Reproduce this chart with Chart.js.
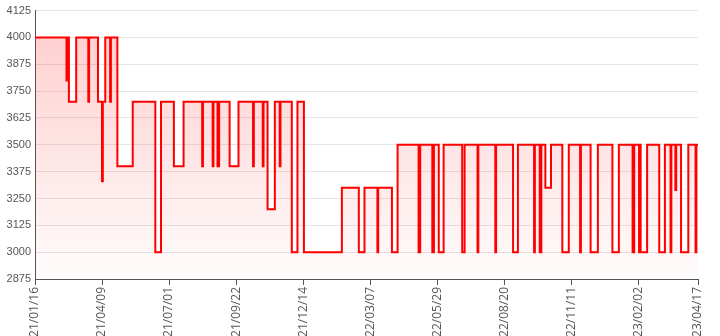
<!DOCTYPE html>
<html>
<head>
<meta charset="utf-8">
<script src="https://cdn.jsdelivr.net/npm/chart.js@4/dist/chart.umd.min.js"></script>
<style>
  html, body { margin: 0; padding: 0; background: #ffffff; }
  #wrap { width: 720px; height: 336px; position: relative; }
</style>
</head>
<body>
<div id="wrap"><canvas id="c"></canvas></div>
<script>
// Start date of the series (day 0 = 2021-01-16)
const startDate = '2021-01-16';

// Days (since startDate) at which the price changes, and the new price
const changeDay = [
  0, 39, 40, 42, 51, 66, 67, 78, 83, 84, 87, 93, 94, 102, 121,
  149, 156, 172, 184, 207, 208, 220, 221, 226, 228, 241, 252,
  270, 271, 282, 283, 288, 297, 303, 304, 318, 325, 333,
  380, 401, 408, 424, 425, 442, 449,
  475, 477, 492, 494, 500, 506, 529, 532, 548, 549,
  570, 571, 592, 598, 618, 619, 625, 627, 632, 639, 653, 661,
  675, 676, 688, 697, 715, 723, 740, 742, 748, 749, 750, 758,
  773, 780, 787, 788, 793, 794, 800, 809, 818, 819, 821
];
const price = [
  4000, 3800, 4000, 3700, 4000, 3700, 4000, 3700, 3330, 3700, 4000, 3700, 4000, 3400, 3700,
  3000, 3700, 3400, 3700, 3400, 3700, 3400, 3700, 3400, 3700, 3400, 3700,
  3400, 3700, 3400, 3700, 3200, 3700, 3400, 3700, 3000, 3700, 3000,
  3300, 3000, 3300, 3000, 3300, 3000, 3500,
  3000, 3500, 3000, 3500, 3000, 3500, 3000, 3500, 3000, 3500,
  3000, 3500, 3000, 3500, 3000, 3500, 3000, 3500, 3300, 3500, 3000, 3500,
  3000, 3500, 3000, 3500, 3000, 3500, 3000, 3500, 3000, 3500, 3000, 3500,
  3000, 3500, 3000, 3500, 3290, 3500, 3000, 3500, 3000, 3500, 3500
];

// X axis ticks
const tickDay = [0, 83, 166, 249, 332, 415, 498, 581, 664, 747, 821];
const tickLabel = ['21/01/16', '21/04/09', '21/07/01', '21/09/22', '21/12/14',
  '22/03/07', '22/05/29', '22/08/20', '22/11/11', '23/02/02', '23/04/17'];

// Y axis range
const yMin = 2875, yMax = 4125, yStep = 125;

const points = changeDay.map((d, i) => ({ x: d, y: price[i] }));

new Chart(document.getElementById('c'), {
  type: 'line',
  data: {
    datasets: [{
      data: points,
      stepped: true,
      borderColor: 'rgb(255,0,0)',
      borderWidth: 2,
      borderJoinStyle: 'miter',
      pointRadius: 0,
      pointHoverRadius: 0,
      fill: 'start',
      backgroundColor: (ctx) => {
        const chart = ctx.chart;
        const area = chart.chartArea;
        if (!area) return 'rgba(255,0,0,0.1)';
        const g = chart.ctx.createLinearGradient(0, area.top, 0, area.bottom);
        g.addColorStop(0, 'rgba(255,0,0,0.2)');
        g.addColorStop(1, 'rgba(255,0,0,0.01)');
        return g;
      }
    }]
  },
  options: {
    responsive: true,
    maintainAspectRatio: false,
    animation: false,
    layout: { padding: { top: 10, right: 22, left: 0, bottom: 0 } },
    plugins: { legend: { display: false }, tooltip: { enabled: false } },
    scales: {
      x: {
        type: 'linear',
        min: 0,
        max: 821,
        afterBuildTicks: (scale) => {
          scale.ticks = tickDay.map(v => ({ value: v }));
        },
        afterFit: (scale) => { scale.height = 57; },
        grid: {
          display: true,
          drawOnChartArea: false,
          drawTicks: true,
          tickLength: 6,
          tickColor: '#555'
        },
        border: { display: true, color: '#555', width: 1 },
        ticks: {
          autoSkip: false,
          maxRotation: 90,
          minRotation: 90,
          padding: 2,
          color: '#555',
          font: { family: 'Open Sans', size: 12 },
          callback: (v) => {
            const i = tickDay.indexOf(v);
            return i >= 0 ? tickLabel[i] : '';
          }
        }
      },
      y: {
        min: yMin,
        max: yMax,
        afterFit: (scale) => { scale.width = 35; },
        grid: {
          color: 'rgba(0,0,0,0.1)',
          drawTicks: false
        },
        border: { display: true, color: '#555', width: 1 },
        ticks: {
          stepSize: yStep,
          padding: 4,
          color: '#555',
          font: { family: 'Liberation Sans', size: 11 },
          callback: (v) => String(v)
        }
      }
    }
  }
});
</script>
</body>
</html>
